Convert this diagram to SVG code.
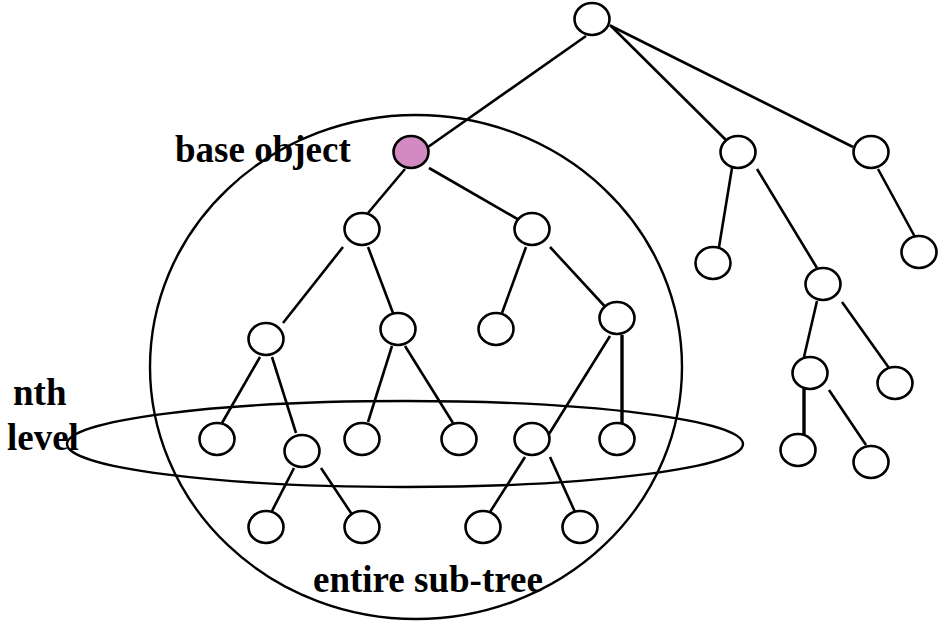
<svg xmlns="http://www.w3.org/2000/svg" width="941" height="625" viewBox="0 0 941 625">
<style>
.n{fill:#fff;stroke:#000;stroke-width:2.6}
.b{fill:#D38AC2;stroke:#000;stroke-width:2.6}
.big{fill:none;stroke:#000;stroke-width:2.4}
.e line{stroke:#000;stroke-width:2.6}
.e line.t{stroke-width:3.4}
.lbl{font-family:"Liberation Serif","Times New Roman",serif;font-weight:bold;font-size:37px;fill:#000}
</style>
<rect width="941" height="625" fill="#fff"/>
<g id="labels">
<text class="lbl" x="175" y="162">base object</text>
<text class="lbl" x="13" y="405">nth</text>
<text class="lbl" x="7" y="450">level</text>
<text class="lbl" x="313" y="592">entire sub-tree</text>
</g>
<g id="subtree-region"><ellipse class="big" cx="416" cy="367" rx="266" ry="252"/></g>
<g id="level-region"><ellipse class="big" cx="405" cy="444" rx="338" ry="43"/></g>
<g id="connectors" class="e">
<line x1="586" y1="36" x2="428" y2="147"/>
<line x1="610" y1="25" x2="732" y2="146"/>
<line x1="611" y1="26" x2="853" y2="147"/>
<line x1="732" y1="168" x2="719" y2="247"/>
<line x1="757" y1="169" x2="817" y2="268"/>
<line x1="878" y1="169" x2="915" y2="237"/>
<line x1="405" y1="169" x2="368" y2="213"/>
<line x1="429" y1="168" x2="526" y2="224"/>
<line x1="343" y1="247" x2="283" y2="323"/>
<line x1="368" y1="247" x2="393" y2="313"/>
<line x1="526" y1="247" x2="502" y2="313"/>
<line x1="550" y1="247" x2="610" y2="312"/>
<line x1="260" y1="357" x2="222" y2="423"/>
<line x1="272" y1="357" x2="296" y2="433"/>
<line x1="392" y1="346" x2="368" y2="422"/>
<line x1="405" y1="346" x2="453" y2="423"/>
<line x1="610" y1="336" x2="549" y2="434"/>
<line class="t" x1="622" y1="335" x2="622" y2="423"/>
<line x1="294" y1="468" x2="272" y2="511"/>
<line x1="321" y1="468" x2="357" y2="522"/>
<line x1="525" y1="457" x2="490" y2="512"/>
<line x1="550" y1="457" x2="575" y2="512"/>
<line x1="817" y1="301" x2="804" y2="357"/>
<line x1="842" y1="302" x2="889" y2="368"/>
<line class="t" x1="804" y1="389" x2="804" y2="434"/>
<line x1="829" y1="390" x2="866" y2="445"/>
</g>
<g id="root"><ellipse class="n" cx="592" cy="19" rx="17.5" ry="16"/></g>
<g id="base-object"><ellipse class="b" cx="411" cy="152" rx="17.5" ry="16"/></g>
<g id="n-a"><ellipse class="n" cx="738" cy="152" rx="17.5" ry="16"/></g>
<g id="n-b"><ellipse class="n" cx="871" cy="152" rx="17.5" ry="16"/></g>
<g id="n-l1"><ellipse class="n" cx="362" cy="229" rx="17.5" ry="16"/></g>
<g id="n-r1"><ellipse class="n" cx="532" cy="229" rx="17.5" ry="16"/></g>
<g id="n-l2a"><ellipse class="n" cx="266" cy="339" rx="17.5" ry="16"/></g>
<g id="n-l2b"><ellipse class="n" cx="398" cy="329" rx="17.5" ry="16"/></g>
<g id="n-r2a"><ellipse class="n" cx="496" cy="329" rx="17.5" ry="16"/></g>
<g id="n-r2b"><ellipse class="n" cx="617" cy="318" rx="17.5" ry="16"/></g>
<g id="n-a1"><ellipse class="n" cx="713" cy="263" rx="17.5" ry="16"/></g>
<g id="n-a2"><ellipse class="n" cx="823" cy="284" rx="17.5" ry="16"/></g>
<g id="n-b1"><ellipse class="n" cx="919" cy="252" rx="17.5" ry="16"/></g>
<g id="n-3a"><ellipse class="n" cx="217" cy="439" rx="17.5" ry="16"/></g>
<g id="n-3b"><ellipse class="n" cx="302" cy="451" rx="17.5" ry="16"/></g>
<g id="n-3c"><ellipse class="n" cx="362" cy="439" rx="17.5" ry="16"/></g>
<g id="n-3d"><ellipse class="n" cx="459" cy="439" rx="17.5" ry="16"/></g>
<g id="n-3e"><ellipse class="n" cx="532" cy="439" rx="17.5" ry="16"/></g>
<g id="n-3f"><ellipse class="n" cx="617" cy="439" rx="17.5" ry="16"/></g>
<g id="n-4a"><ellipse class="n" cx="266" cy="527" rx="17.5" ry="16"/></g>
<g id="n-4b"><ellipse class="n" cx="362" cy="527" rx="17.5" ry="16"/></g>
<g id="n-4c"><ellipse class="n" cx="483" cy="527" rx="17.5" ry="16"/></g>
<g id="n-4d"><ellipse class="n" cx="580" cy="527" rx="17.5" ry="16"/></g>
<g id="n-a2a"><ellipse class="n" cx="810" cy="373" rx="17.5" ry="16"/></g>
<g id="n-a2b"><ellipse class="n" cx="895" cy="383" rx="17.5" ry="16"/></g>
<g id="n-a3a"><ellipse class="n" cx="798" cy="450" rx="17.5" ry="16"/></g>
<g id="n-a3b"><ellipse class="n" cx="871" cy="462" rx="17.5" ry="16"/></g>
</svg>
